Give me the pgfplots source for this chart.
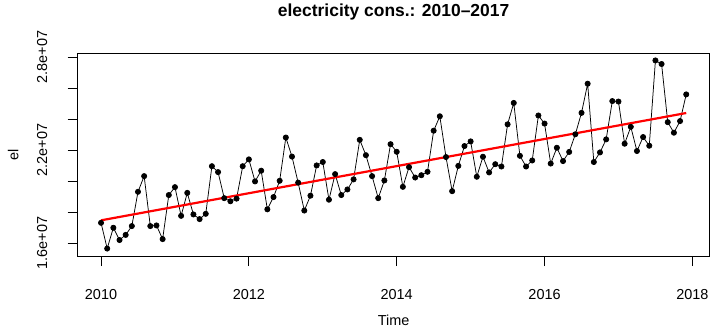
\documentclass[border=0pt]{standalone}
\usepackage{fontspec}
\setmainfont{Liberation Sans}
\usepackage{pgfplots}
\usepackage{pgfplotstable}
\pgfplotsset{compat=1.18}

\pgfplotstableread{
t v
2010.0000 17310000
2010.0833 15650000
2010.1667 16990000
2010.2500 16200000
2010.3333 16530000
2010.4167 17100000
2010.5000 19310000
2010.5833 20320000
2010.6667 17100000
2010.7500 17140000
2010.8333 16260000
2010.9167 19100000
2011.0000 19610000
2011.0833 17760000
2011.1667 19240000
2011.2500 17850000
2011.3333 17550000
2011.4167 17890000
2011.5000 20960000
2011.5833 20580000
2011.6667 18900000
2011.7500 18700000
2011.8333 18870000
2011.9167 20960000
2012.0000 21400000
2012.0833 19980000
2012.1667 20670000
2012.2500 18180000
2012.3333 18970000
2012.4167 20020000
2012.5000 22810000
2012.5833 21580000
2012.6667 19900000
2012.7500 18100000
2012.8333 19060000
2012.9167 21010000
2013.0000 21230000
2013.0833 18800000
2013.1667 20450000
2013.2500 19100000
2013.3333 19460000
2013.4167 20110000
2013.5000 22660000
2013.5833 21670000
2013.6667 20320000
2013.7500 18900000
2013.8333 20040000
2013.9167 22380000
2014.0000 21890000
2014.0833 19630000
2014.1667 20900000
2014.2500 20230000
2014.3333 20380000
2014.4167 20600000
2014.5000 23250000
2014.5833 24180000
2014.6667 21550000
2014.7500 19350000
2014.8333 20980000
2014.9167 22260000
2015.0000 22560000
2015.0833 20280000
2015.1667 21570000
2015.2500 20560000
2015.3333 21090000
2015.4167 20940000
2015.5000 23660000
2015.5833 25040000
2015.6667 21630000
2015.7500 20940000
2015.8333 21330000
2015.9167 24230000
2016.0000 23710000
2016.0833 21130000
2016.1667 22150000
2016.2500 21290000
2016.3333 21880000
2016.4167 23020000
2016.5000 24400000
2016.5833 26280000
2016.6667 21230000
2016.7500 21850000
2016.8333 22690000
2016.9167 25160000
2017.0000 25130000
2017.0833 22410000
2017.1667 23500000
2017.2500 21940000
2017.3333 22840000
2017.4167 22280000
2017.5000 27780000
2017.5833 27550000
2017.6667 23800000
2017.7500 23120000
2017.8333 23870000
2017.9167 25590000
}\eldata

\begin{document}
\begin{tikzpicture}
\path[use as bounding box] (0,0) rectangle (711bp,328bp);
\begin{axis}[
  at={(77.6bp,72bp)}, anchor=south west,
  scale only axis, width=632bp, height=203bp,
  xmin=2009.683, xmax=2018.233,
  ymin=15170000, ymax=28260000,
  scaled x ticks=false, scaled y ticks=false,
  xtick={2010,2012,2014,2016,2018},
  xticklabels={2010,2012,2014,2016,2018},
  ytick={16000000,18000000,20000000,22000000,24000000,26000000,28000000},
  yticklabels={1.6e+07,{},{},2.2e+07,{},{},2.8e+07},
  tick pos=left, tick align=outside,
  major tick length=10bp,
  every tick/.style={black, line width=0.75bp},
  axis line style={black, line width=0.75bp},
  tick label style={font=\fontsize{14.5}{17}\selectfont, black},
  xticklabel style={anchor=base, yshift=-33.5bp},
  yticklabel style={rotate=90, anchor=base, yshift=20.5bp},
  title={\textbf{electricity cons.: 2010–2017}},
  title style={at={(axis description cs:0.5,1.1527)}, anchor=base, font=\fontsize{17.5}{21}\selectfont},
  xlabel={Time},
  xlabel style={at={(axis description cs:0.5,-0.3399)}, anchor=base, font=\fontsize{14.5}{17}\selectfont},
  ylabel={el},
  ylabel style={at={(axis description cs:-0.0938,0.5)}, anchor=base, font=\fontsize{14.5}{17}\selectfont},
  clip=false,
]
\addplot[black, line width=0.75bp, mark=*, mark size=2.6bp, mark options={fill=black, draw=black}] table[x=t, y=v] {\eldata};
\addplot[red, line width=2.2bp] coordinates {(2010,17470000) (2017.9167,24390000)};
\end{axis}
\end{tikzpicture}
\end{document}
